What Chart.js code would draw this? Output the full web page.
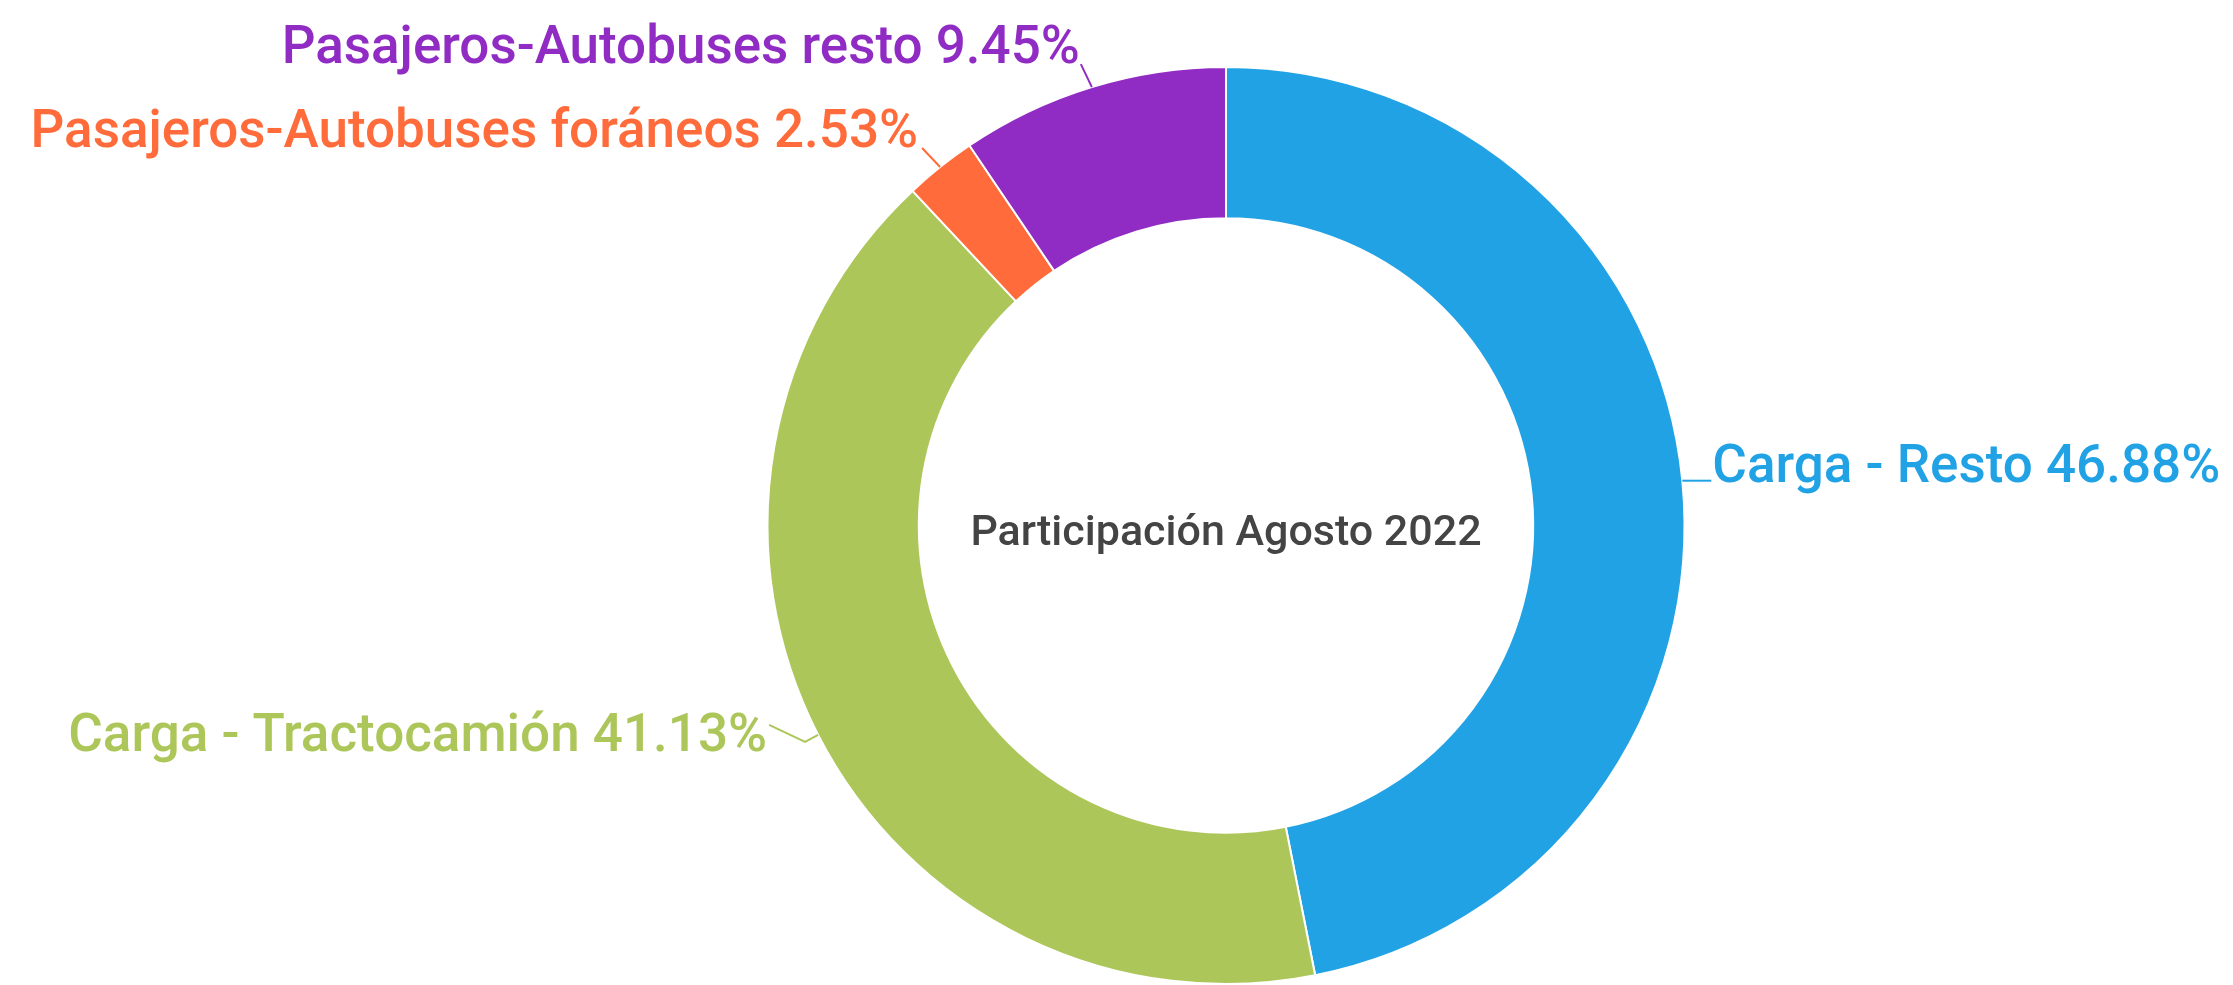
<!DOCTYPE html>
<html lang="es">
<head>
<meta charset="utf-8">
<title>Participación Agosto 2022</title>
<script src="https://cdn.jsdelivr.net/npm/chart.js@4.4.1/dist/chart.umd.min.js"></script>
<style>
  html, body { margin: 0; padding: 0; background: #ffffff; }
  #wrap { width: 2233px; height: 985px; position: relative; }
</style>
</head>
<body>
<div id="wrap"><canvas id="chart" width="2233" height="985"></canvas></div>
<script>
  // --- Datos ------------------------------------------------------------------
  var CATEGORIES = ["Carga - Resto", "Carga - Tractocamión", "Pasajeros-Autobuses foráneos", "Pasajeros-Autobuses resto"];
  var VALUES = [46.88, 41.13, 2.53, 9.45];
  var CENTER_TITLE = "Participación Agosto 2022";

  // --- Estilo -----------------------------------------------------------------
  var COLORS = ["#21a2e5", "#adc65a", "#ff6b3a", "#902bc3"];
  // conector: codo opcional y punto final, relativos al borde exterior del sector
  var LABEL_KNEE = [null, [-13, 7], null, null];
  var LABEL_END = [[29, 0], [-49, -10], [-18, -19], [-11, -23]];
  var LABEL_ALIGN = ["left", "right", "right", "right"];
  var LABEL_SHIFT = [[1, 1], [-2, 26], [-4, -1], [-1, -1]];
  var FONT = "Roboto, 'Noto Sans', sans-serif";

  // Dibuja las etiquetas de datos con su línea conectora y el título central.
  var labelsPlugin = {
    id: "sliceLabels",
    afterDraw: function (chart) {
      var ctx = chart.ctx;
      var meta = chart.getDatasetMeta(0);
      ctx.save();
      meta.data.forEach(function (arc, i) {
        var p = arc.getProps(["x", "y", "startAngle", "endAngle", "outerRadius"], true);
        var mid = (p.startAngle + p.endAngle) / 2;
        var ex = p.x + Math.cos(mid) * p.outerRadius;
        var ey = p.y + Math.sin(mid) * p.outerRadius;
        var end = LABEL_END[i];
        ctx.strokeStyle = COLORS[i];
        ctx.lineWidth = 2;
        ctx.beginPath();
        ctx.moveTo(ex, ey);
        if (LABEL_KNEE[i]) ctx.lineTo(ex + LABEL_KNEE[i][0], ey + LABEL_KNEE[i][1]);
        ctx.lineTo(ex + end[0], ey + end[1]);
        ctx.stroke();

        ctx.fillStyle = COLORS[i];
        ctx.font = "500 53px " + FONT;
        ctx.textAlign = LABEL_ALIGN[i];
        ctx.textBaseline = "alphabetic";
        var txt = CATEGORIES[i] + " " + VALUES[i].toFixed(2) + "%";
        ctx.fillText(txt, ex + end[0] + LABEL_SHIFT[i][0], ey + end[1] + LABEL_SHIFT[i][1]);
      });

      var a0 = meta.data[0];
      ctx.fillStyle = "#444444";
      ctx.font = "500 43px " + FONT;
      ctx.textAlign = "center";
      ctx.textBaseline = "alphabetic";
      ctx.fillText(CENTER_TITLE, a0.x, a0.y + 19);
      ctx.restore();
    }
  };

  new Chart(document.getElementById("chart"), {
    type: "doughnut",
    data: {
      labels: CATEGORIES,
      datasets: [{
        data: VALUES,
        backgroundColor: COLORS,
        borderColor: "#ffffff",
        borderWidth: 2,
        hoverOffset: 0
      }]
    },
    options: {
      responsive: false,
      animation: false,
      cutout: "67%",
      layout: { padding: { left: 219, right: 0, top: 66, bottom: -4 } },
      plugins: { legend: { display: false }, tooltip: { enabled: false } }
    },
    plugins: [labelsPlugin]
  });
</script>
</body>
</html>
